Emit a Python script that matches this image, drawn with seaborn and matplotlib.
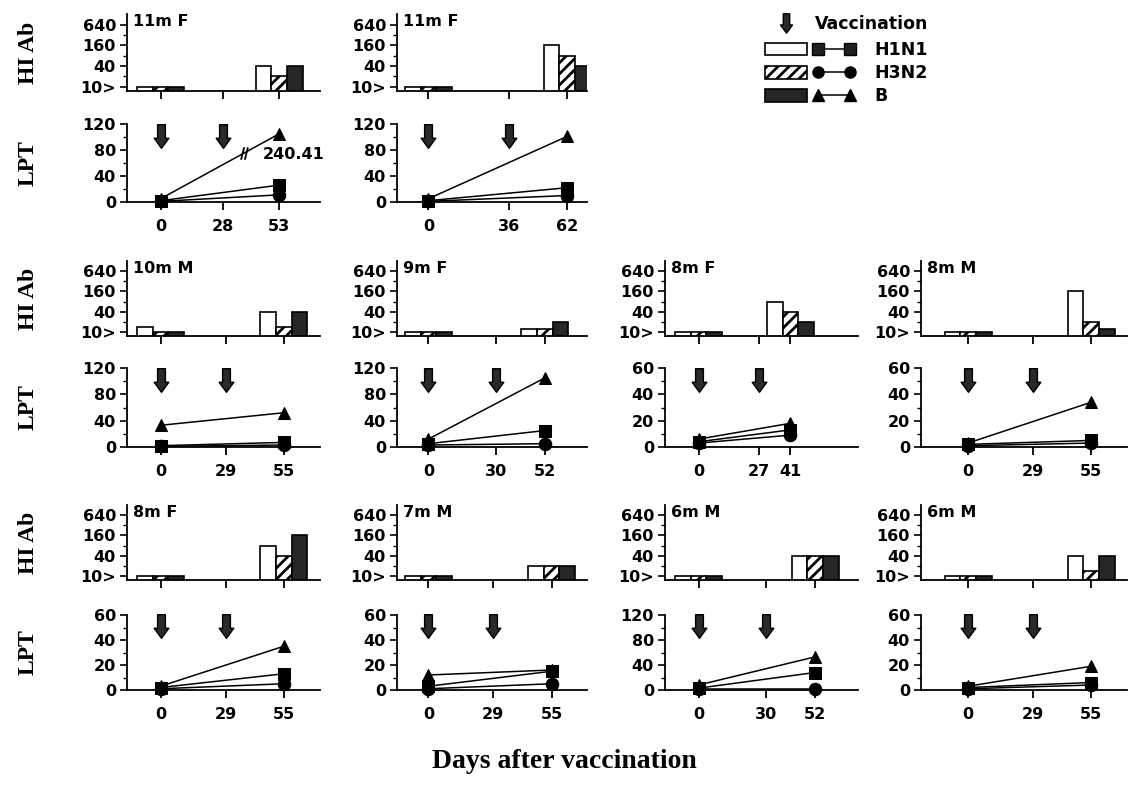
import numpy as np
import pandas as pd
import matplotlib
matplotlib.use("Agg")
import matplotlib.pyplot as plt
import seaborn as sns
import matplotlib.transforms as mtransforms
from matplotlib.path import Path
from matplotlib.patches import Patch
from matplotlib.lines import Line2D
from matplotlib.legend_handler import HandlerTuple, HandlerLine2D
from matplotlib.ticker import FixedLocator, FixedFormatter, NullFormatter

# ---------------- data ----------------
panel_labels = ["11m F", "11m F", "10m M", "9m F", "8m F", "8m M",
                "8m F", "7m M", "6m M", "6m M"]
second_vacc_day = [28, 36, 29, 30, 27, 29, 29, 29, 30, 29]
final_day = [53, 62, 55, 52, 41, 55, 55, 55, 52, 55]
strains = ["H1N1", "H3N2", "B"]

# HI antibody titers (day 0 and final day); "<10" plotted at the 10> level
hi_h1n1_d0 = [10, 10, 14, 10, 10, 10, 10, 10, 10, 10]
hi_h3n2_d0 = [10, 10, 10, 10, 10, 10, 10, 10, 10, 10]
hi_b_d0 = [10, 10, 10, 10, 10, 10, 10, 10, 10, 10]
hi_h1n1_fin = [40, 160, 40, 12, 80, 160, 80, 20, 40, 40]
hi_h3n2_fin = [20, 80, 14, 12, 40, 20, 40, 20, 40, 14]
hi_b_fin = [40, 40, 40, 20, 20, 12, 160, 20, 40, 40]

# LPT values (day 0 and final day)
lpt_h1n1_d0 = [2, 2, 2, 5, 4, 2, 2, 3, 3, 2]
lpt_h1n1_fin = [26, 22, 7, 25, 13, 5, 13, 15, 28, 6]
lpt_h3n2_d0 = [1, 1, 1, 3, 3, 1, 1, 1, 1, 1]
lpt_h3n2_fin = [11, 10, 3, 5, 9, 3, 5, 5, 1, 4]
lpt_b_d0 = [5, 5, 33, 12, 6, 3, 3, 12, 8, 3]
lpt_b_fin = [240.41, 101, 52, 105, 18, 34, 35, 16, 53, 19]

lpt_ymax = [120, 120, 120, 120, 60, 60, 60, 60, 120, 60]
hi_ticks = [10, 40, 160, 640]
hi_tick_labels = ["10>", "40", "160", "640"]
hi_minor = [20, 80, 320]

# ---------------- style / layout ----------------
W, H = 1128, 785
sns.set_style("ticks")
plt.rcParams["font.family"] = ["DejaVu Sans"]
plt.rcParams["font.weight"] = "bold"
plt.rcParams["hatch.linewidth"] = 2.0
plt.rcParams["axes.linewidth"] = 1.3
for key in ["text.color", "axes.labelcolor", "xtick.color", "ytick.color",
            "axes.edgecolor"]:
    plt.rcParams[key] = "black"

fig = plt.figure(figsize=(W / 100, H / 100), dpi=100)

panel_pos = [(0, 0), (0, 1), (1, 0), (1, 1), (1, 2), (1, 3),
             (2, 0), (2, 1), (2, 2), (2, 3)]
hi_rows = [(14, 91), (261, 336), (505, 580)]
lpt_rows = [(124, 202), (368, 447), (615, 690)]
col_left = [127, 397, 665, 921]
col_xmin = [-15, -14, -15, -21]
x_max = 71
px_per_day = 2.24
group_days = 21
hi_ylim = (7.5, 1300)
break_cap = 105

fill = {"H1N1": "white", "H3N2": "white", "B": "#262626"}
hatch = {"H1N1": None, "H3N2": "///", "B": None}
markers = {"H1N1": "s", "H3N2": "o", "B": "^"}
mface = {"H1N1": "#202020", "H3N2": "black", "B": "black"}

arrow_path = Path(
    [(-0.33, 1), (0.33, 1), (0.33, -0.15), (0.62, -0.15), (0, -1),
     (-0.62, -0.15), (-0.33, -0.15), (-0.33, 1)],
    [Path.MOVETO] + [Path.LINETO] * 6 + [Path.CLOSEPOLY])
break_path = Path([(-0.55, -1), (-0.05, 1), (0.05, -1), (0.55, 1)],
                  [Path.MOVETO, Path.LINETO, Path.MOVETO, Path.LINETO])


def px_axes(left, top, width, height):
    return fig.add_axes([left / W, 1 - (top + height) / H, width / W, height / H])


tick_font = dict(family="DejaVu Sans", weight="bold", size=11.5)

for i, (r, c) in enumerate(panel_pos):
    xmin = col_xmin[c]
    width_px = (x_max - xmin) * px_per_day
    fd = final_day[i]
    days = [0, second_vacc_day[i], fd]

    # ---- HI Ab bars ----
    top, bot = hi_rows[r]
    ax = px_axes(col_left[c], top, width_px, bot - top)
    hi_df = pd.DataFrame({
        "day": [0, 0, 0, fd, fd, fd],
        "strain": strains * 2,
        "titer": [hi_h1n1_d0[i], hi_h3n2_d0[i], hi_b_d0[i],
                  hi_h1n1_fin[i], hi_h3n2_fin[i], hi_b_fin[i]],
    })
    sns.barplot(data=hi_df, x="day", y="titer", hue="strain", hue_order=strains,
                native_scale=True, width=group_days / fd, errorbar=None,
                palette=fill, edgecolor="black", linewidth=1.2, legend=False,
                ax=ax, saturation=1)
    bar_w = group_days / 3
    for p in ax.patches:
        cx = p.get_x() + p.get_width() / 2
        d = 0 if abs(cx) < abs(cx - fd) else fd
        k = int(round((cx - d) / bar_w)) + 1
        k = min(max(k, 0), 2)
        s = strains[k]
        p.set_facecolor(fill[s])
        p.set_edgecolor("black")
        if hatch[s]:
            p.set_hatch(hatch[s])
    ax.set_yscale("log", base=2)
    ax.set_ylim(*hi_ylim)
    ax.set_xlim(xmin, x_max)
    ax.yaxis.set_major_locator(FixedLocator(hi_ticks))
    ax.yaxis.set_major_formatter(FixedFormatter(hi_tick_labels))
    ax.yaxis.set_minor_locator(FixedLocator(hi_minor))
    ax.yaxis.set_minor_formatter(NullFormatter())
    ax.set_xticks(days)
    ax.set_xticklabels([])
    ax.set_xlabel("")
    ax.set_ylabel("")
    sns.despine(ax=ax)
    ax.tick_params(axis="x", direction="out", length=6, width=1.3)
    ax.tick_params(axis="y", which="major", direction="out", length=5, width=1.2, pad=3)
    ax.tick_params(axis="y", which="minor", direction="out", length=3, width=1.0)
    for lab in ax.get_yticklabels():
        lab.set_fontproperties(tick_font)
    ax.text(0.03, 0.9, panel_labels[i], transform=ax.transAxes, ha="left",
            va="center", fontsize=11.5, fontweight="bold", family="DejaVu Sans")

    # ---- LPT lines ----
    top, bot = lpt_rows[r]
    ax2 = px_axes(col_left[c], top, width_px, bot - top)
    raw = {"H1N1": (lpt_h1n1_d0[i], lpt_h1n1_fin[i]),
           "H3N2": (lpt_h3n2_d0[i], lpt_h3n2_fin[i]),
           "B": (lpt_b_d0[i], lpt_b_fin[i])}
    rows = []
    for s in strains:
        for d, v in zip([0, fd], raw[s]):
            rows.append({"day": d, "strain": s, "lpt": min(v, break_cap)})
    lpt_df = pd.DataFrame(rows)
    sns.lineplot(data=lpt_df, x="day", y="lpt", hue="strain", style="strain",
                 hue_order=strains, style_order=strains,
                 palette={s: "black" for s in strains}, markers=markers,
                 dashes=False, markersize=9, linewidth=1.1, legend=False,
                 errorbar=None, markeredgecolor="black", ax=ax2, clip_on=False)
    ax2.set_xlim(xmin, x_max)
    ymax = lpt_ymax[i]
    ax2.set_ylim(0, ymax)
    step = ymax / 3
    ax2.set_yticks(np.arange(0, ymax + 1, step))
    ax2.set_yticks(np.arange(step / 2, ymax, step), minor=True)
    ax2.yaxis.set_major_formatter(FixedFormatter([f"{int(v)}" for v in np.arange(0, ymax + 1, step)]))
    ax2.set_xticks(days)
    ax2.set_xticklabels([str(d) for d in days])
    ax2.set_xlabel("")
    ax2.set_ylabel("")
    sns.despine(ax=ax2)
    ax2.tick_params(axis="x", direction="out", length=6, width=1.3, pad=6)
    ax2.tick_params(axis="y", which="major", direction="out", length=5, width=1.2, pad=3)
    ax2.tick_params(axis="y", which="minor", direction="out", length=3, width=1.0)
    for lab in ax2.get_yticklabels() + ax2.get_xticklabels():
        lab.set_fontproperties(tick_font)

    # vaccination arrows
    blend = mtransforms.blended_transform_factory(ax2.transData, ax2.transAxes)
    vdays = [0, second_vacc_day[i]]
    ax2.plot(vdays, [0.85] * len(vdays), transform=blend, ls="none",
             marker=arrow_path, ms=17, mfc="#2a2a2a", mec="black", mew=1.0,
             clip_on=False)

    # axis break for values beyond the plotted range
    b0, b1 = raw["B"]
    if b1 > break_cap:
        frac = 0.7
        xb = frac * fd
        yb = b0 + frac * (break_cap - b0)
        ax2.plot([xb], [yb], marker=break_path, ms=9, mfc="none", mec="black",
                 mew=1.3, ls="none")
        ax2.annotate(f"{b1}", xy=(fd, break_cap), xytext=(-12, -15),
                     textcoords="offset points", ha="left", va="center",
                     fontsize=11.5, fontweight="bold", family="DejaVu Sans")

# row labels
for r in range(3):
    t, b = hi_rows[r]
    fig.text(28 / W, 1 - (t + b) / 2 / H, "HI Ab", rotation=90, ha="center",
             va="center", family="Liberation Serif", fontweight="bold", fontsize=17)
    t, b = lpt_rows[r]
    fig.text(28 / W, 1 - (t + b) / 2 / H, "LPT", rotation=90, ha="center",
             va="center", family="Liberation Serif", fontweight="bold", fontsize=17)

fig.text(0.5, 1 - 762 / H, "Days after vaccination", ha="center", va="center",
         family="Liberation Serif", fontweight="bold", fontsize=20)

# legends
leg_prop = dict(family="DejaVu Sans", weight="bold", size=12.5)
arrow_handle = Line2D([], [], ls="none", marker=arrow_path, ms=14,
                      mfc="#2a2a2a", mec="black")
fig.legend(handles=[arrow_handle], labels=["Vaccination"], loc="upper left",
           bbox_to_anchor=(772 / W, 1 - 15 / H), frameon=False, borderpad=0,
           borderaxespad=0, handlelength=1.6, handletextpad=0.9, prop=leg_prop,
           handler_map={arrow_handle: HandlerLine2D(numpoints=1)})
strain_handles = []
for s in strains:
    patch = Patch(facecolor=fill[s], edgecolor="black", hatch=hatch[s], lw=1.2)
    line = Line2D([], [], color="black", marker=markers[s], ms=8, lw=1.1,
                  mfc=mface[s], mec="black")
    strain_handles.append((patch, line))
fig.legend(handles=strain_handles, labels=strains, loc="upper left",
           bbox_to_anchor=(765 / W, 1 - 41 / H), frameon=False, borderpad=0,
           borderaxespad=0, handlelength=5.2, handleheight=0.75,
           handletextpad=1.1, labelspacing=0.3, numpoints=2, prop=leg_prop,
           handler_map={tuple: HandlerTuple(ndivide=None, pad=0.35)})

fig.savefig("out.png", dpi=100)
